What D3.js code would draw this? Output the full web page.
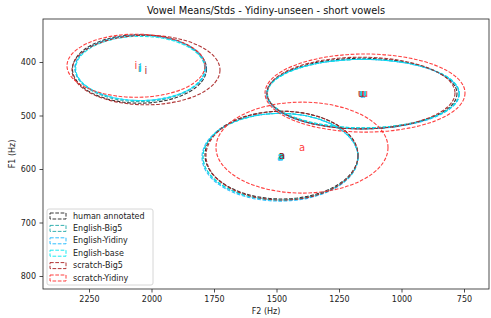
<!DOCTYPE html>
<html><head><meta charset="utf-8">
<script src="https://cdn.jsdelivr.net/npm/d3@7"></script>
<style>body{margin:0;background:#fff}svg{display:block;font-family:"DejaVu Sans",sans-serif}</style>
</head><body><svg id="c" width="491" height="318"></svg>
<script>
const seriesNames = ["human annotated","English-Big5","English-Yidiny","English-base","scratch-Big5","scratch-Yidiny"];
const seriesColors = ["#222222","#20a8a8","#1ab8ff","#00e8f0","#a82020","#ff2a2a"];
const vowels = ["i","u","a"];
// mean F2 per vowel (i,u,a), per series
const meanF2 = [
  [2048,1158,1480],
  [2046,1154,1484],
  [2044,1156,1486],
  [2045,1152,1484],
  [2022,1162,1478],
  [2062,1146,1398]
];
const meanF1 = [
  [413,459,574],
  [412,459,577],
  [411,460,578],
  [412,459,577],
  [415,458,575],
  [407,458,560]
];
const stdF2 = [
  [268,380,306],
  [260,384,310],
  [262,386,312],
  [258,384,310],
  [296,376,304],
  [276,400,344]
];
const stdF1 = [
  [64,66,82],
  [62,64,81],
  [61,65,82],
  [60,64,81],
  [65,67,83],
  [59,73,85]
];
const xTicks = [2250,2000,1750,1500,1250,1000,750];
const yTicks = [400,500,600,700,800];

const svg = d3.select("#c");
const L=43,R=489,T=19,B=289;
const x = d3.scaleLinear().domain([2434,650]).range([L,R]);
const y = d3.scaleLinear().domain([319.6,824.3]).range([T,B]);

const gx = svg.append("g").attr("transform",`translate(0,${B})`)
  .call(d3.axisBottom(x).tickValues(xTicks).tickSize(3.5).tickPadding(3.5).tickFormat(d3.format("d")));
const gy = svg.append("g").attr("transform",`translate(${L},0)`)
  .call(d3.axisLeft(y).tickValues(yTicks).tickSize(3.5).tickPadding(3.5).tickFormat(d3.format("d")));
[gx,gy].forEach(g=>{g.select(".domain").remove();g.selectAll("text").attr("font-size",8).attr("fill","#222").attr("font-family","DejaVu Sans");g.selectAll("line").attr("stroke","#222").attr("stroke-width",0.8);});

const clip = svg.append("clipPath").attr("id","cp").append("rect").attr("x",L).attr("y",T).attr("width",R-L).attr("height",B-T);
const plot = svg.append("g").attr("clip-path","url(#cp)");

seriesNames.forEach((name,s)=>{
  vowels.forEach((v,k)=>{
    const cx=x(meanF2[s][k]), cy=y(meanF1[s][k]);
    plot.append("ellipse").attr("cx",cx).attr("cy",cy)
      .attr("rx",Math.abs(x(meanF2[s][k]+stdF2[s][k])-cx))
      .attr("ry",Math.abs(y(meanF1[s][k]+stdF1[s][k])-cy))
      .attr("fill","none").attr("stroke",seriesColors[s]).attr("stroke-width",1.1)
      .attr("stroke-dasharray","3.7,1.6").attr("opacity",0.9);
  });
});
seriesNames.forEach((name,s)=>{
  vowels.forEach((v,k)=>{
    plot.append("text").attr("x",x(meanF2[s][k])).attr("y",y(meanF1[s][k]))
      .attr("text-anchor","middle").attr("dominant-baseline","central")
      .attr("font-size",10).attr("fill",seriesColors[s]).attr("opacity",0.9).text(v);
  });
});

svg.append("rect").attr("x",L).attr("y",T).attr("width",R-L).attr("height",B-T)
  .attr("fill","none").attr("stroke","#222").attr("stroke-width",0.8);

svg.append("text").attr("x",(L+R)/2).attr("y",14).attr("text-anchor","middle")
  .attr("font-size",9.8).attr("fill","#111").text("Vowel Means/Stds - Yidiny-unseen - short vowels");
svg.append("text").attr("x",(L+R)/2).attr("y",314).attr("text-anchor","middle")
  .attr("font-size",8).attr("fill","#222").text("F2 (Hz)");
svg.append("text").attr("transform",`translate(15,${(T+B)/2}) rotate(-90)`).attr("text-anchor","middle")
  .attr("font-size",8).attr("fill","#222").text("F1 (Hz)");

const lg = svg.append("g");
lg.append("rect").attr("x",47).attr("y",209).attr("width",106).attr("height",76).attr("rx",2)
  .attr("fill","#fff").attr("fill-opacity",0.8).attr("stroke","#ccc").attr("stroke-width",0.8);
seriesNames.forEach((name,s)=>{
  const yy = 216 + s*12.4;
  lg.append("rect").attr("x",50).attr("y",yy-3).attr("width",16).attr("height",6)
    .attr("fill","none").attr("stroke",seriesColors[s]).attr("stroke-width",1)
    .attr("stroke-dasharray","3.7,1.6").attr("opacity",0.9);
  lg.append("text").attr("x",73).attr("y",yy).attr("dominant-baseline","central")
    .attr("font-size",8).attr("fill","#222").text(name);
});
</script></body></html>
